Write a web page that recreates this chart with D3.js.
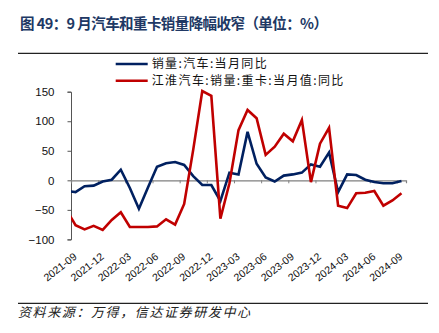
<!DOCTYPE html>
<html><head><meta charset="utf-8">
<script src="https://cdn.jsdelivr.net/npm/d3@7"></script>
<style>
html,body{margin:0;padding:0;background:#fff;}
svg{display:block;}
</style></head>
<body>
<svg id="chart" width="439" height="333"></svg>
<script>
// ---- data ----
const months = ["2021-08","2021-09","2021-10","2021-11","2021-12","2022-01","2022-02","2022-03","2022-04","2022-05","2022-06","2022-07","2022-08","2022-09","2022-10","2022-11","2022-12","2023-01","2023-02","2023-03","2023-04","2023-05","2023-06","2023-07","2023-08","2023-09","2023-10","2023-11","2023-12","2024-01","2024-02","2024-03","2024-04","2024-05","2024-06","2024-07","2024-08","2024-09"];
const autoYoY = [-18,-20,-10,-9,-2,1,18,-13,-48,-12,23,29,31,26,7,-8,-8,-35,13,10,82,28,5,-2,8,10,13,27,23,47,-20,10,9,1,-3,-5,-5,-1];
const jacTruckYoY = [-50,-76,-83,-77,-84,-67,-54,-79,-79,-79,-78,-66,-75,-40,52,151,143,-65,-5,85,119,105,43,57,79,66,102,-3,62,89,-43,-47,-22,-21,-18,-43,-34,-22];
const xTickLabels = ["2021-09","2021-12","2022-03","2022-06","2022-09","2022-12","2023-03","2023-06","2023-09","2023-12","2024-03","2024-06","2024-09"];
const yTicks = [-100,-50,0,50,100,150];
const seriesNames = ["销量:汽车:当月同比","江淮汽车:销量:重卡:当月值:同比"];
const seriesColors = ["#002060","#c00000"];
const titleText = "图 49：9 月汽车和重卡销量降幅收窄（单位：%）";
const sourceText = "资料来源：万得，信达证券研发中心";

// ---- layout ----
const svg = d3.select("#chart");
const plotL = 71, plotR = 406, plotT = 91.7, plotB = 239.4;
const firstIdx = months.indexOf("2021-09");
const nCat = months.length - firstIdx; // 37
const x = d3.scaleLinear().domain([-0.5, nCat - 0.5]).range([plotL, plotR]);
const y = d3.scaleLinear().domain([-100,150]).range([plotB, plotT]);
const catIndex = m => months.indexOf(m) - firstIdx;

// title
svg.append("text").attr("x",20).attr("y",28.5)
  .attr("font-family","'Noto Sans CJK SC', sans-serif").attr("font-weight","bold")
  .attr("font-size",14.5).attr("fill","#203864")
  .attr("textLength",308).attr("lengthAdjust","spacing")
  .text(titleText);

// top & bottom rules
svg.append("line").attr("x1",18).attr("x2",428).attr("y1",53.3).attr("y2",53.3).attr("stroke","#222").attr("stroke-width",1.2);
svg.append("line").attr("x1",18).attr("x2",428).attr("y1",303.3).attr("y2",303.3).attr("stroke","#222").attr("stroke-width",1.2);

// source
svg.append("text").attr("x",18).attr("y",317)
  .attr("font-family","'Noto Sans CJK SC', sans-serif").attr("font-style","italic")
  .attr("font-size",13).attr("fill","#222")
  .attr("textLength",232).attr("lengthAdjust","spacing")
  .text(sourceText);

// legend
const legY = [64, 80.7];
const legLen = [115, 191.6];
seriesNames.forEach((n,i)=>{
  svg.append("line").attr("x1",115.7).attr("x2",147.7).attr("y1",legY[i]).attr("y2",legY[i])
    .attr("stroke",seriesColors[i]).attr("stroke-width",2.6);
  svg.append("text").attr("x",151.7).attr("y",legY[i]+4.3)
    .attr("font-family","'Noto Sans CJK SC', sans-serif").attr("font-size",12)
    .attr("fill","#111").attr("textLength",legLen[i]).attr("lengthAdjust","spacing")
    .text(n);
});

// y axis
const yAxis = d3.axisLeft(y).tickValues(yTicks).tickSize(3.5).tickPadding(13)
  .tickFormat(d => d < 0 ? "\u2212" + Math.abs(d) : String(d));
const gy = svg.append("g").attr("transform",`translate(${plotL},0)`).call(yAxis);
gy.select(".domain").attr("stroke","#555").attr("stroke-width",1);
gy.selectAll(".tick line").attr("stroke","#555");
gy.selectAll(".tick text").attr("font-family","Arial, 'Liberation Sans', sans-serif").attr("font-size",11.5).attr("fill","#111");

// x axis at zero
const tickIdx = xTickLabels.map(catIndex);
const xAxis = d3.axisBottom(x).tickValues(tickIdx.map(i=>i-0.5)).tickSize(3).tickFormat("");
const gx = svg.append("g").attr("transform",`translate(0,${y(0)})`).call(xAxis);
gx.select(".domain").attr("stroke","#808080").attr("stroke-width",1.2);
gx.selectAll(".tick line").attr("stroke","#808080");

// x labels
svg.append("g").selectAll("text").data(xTickLabels).join("text")
  .attr("transform", d => `translate(${x(catIndex(d))+2},${258}) rotate(-38)`)
  .attr("text-anchor","end")
  .attr("font-family","Arial, 'Liberation Sans', sans-serif").attr("font-size",10.5).attr("fill","#111")
  .text(d=>d);

// clip
svg.append("clipPath").attr("id","plotclip").append("rect")
  .attr("x",plotL).attr("y",0).attr("width",plotR-plotL).attr("height",333);

const line = d3.line().x((d,i)=>x(i - firstIdx)).y(d=>y(d));
[autoYoY, jacTruckYoY].forEach((s,k)=>{
  svg.append("path").datum(s).attr("d",line).attr("fill","none")
    .attr("stroke",seriesColors[k]).attr("stroke-width",2.6)
    .attr("stroke-linejoin","miter").attr("clip-path","url(#plotclip)");
});
</script>
</body></html>
